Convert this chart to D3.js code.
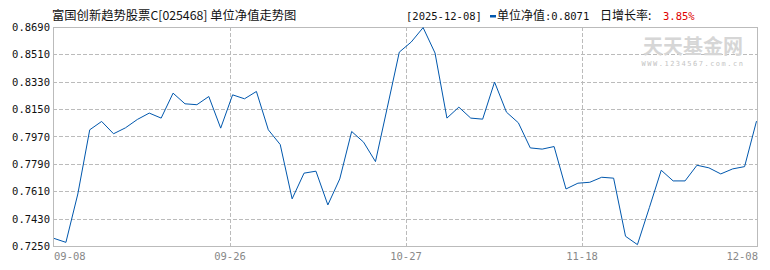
<!DOCTYPE html>
<html>
<head>
<meta charset="utf-8">
<script src="https://cdn.jsdelivr.net/npm/d3@7/dist/d3.min.js"></script>
<style>
  html, body { margin: 0; padding: 0; background: #fff; }
  svg { display: block; }
</style>
</head>
<body>
<svg id="chart" width="770" height="270"></svg>
<script>
// ---- data ----
const dates = [
  "09-08","09-09","09-10","09-11","09-12","09-15","09-16","09-17","09-18","09-19",
  "09-22","09-23","09-24","09-25","09-26","09-29","09-30",
  "10-09","10-10","10-13","10-14","10-15","10-16","10-17","10-20","10-21","10-22",
  "10-23","10-24","10-27","10-28","10-29","10-30","10-31",
  "11-03","11-04","11-05","11-06","11-07","11-10","11-11","11-12","11-13","11-14",
  "11-17","11-18","11-19","11-20","11-21","11-24","11-25","11-26","11-27","11-28",
  "12-01","12-02","12-03","12-04","12-05","12-08"
];
const navValues = [
  0.7300, 0.7274, 0.7592, 0.8014, 0.8069, 0.7988, 0.8027, 0.8082, 0.8124, 0.8091,
  0.8255, 0.8185, 0.8179, 0.8233, 0.8025, 0.8244, 0.8218, 0.8266, 0.8014, 0.7917,
  0.7560, 0.7729, 0.7742, 0.7520, 0.7691, 0.8003, 0.7933, 0.7805, 0.8163, 0.8525,
  0.8591, 0.8686, 0.8519, 0.8091, 0.8163, 0.8091, 0.8084, 0.8328, 0.8130, 0.8060,
  0.7895, 0.7887, 0.7904, 0.7625, 0.7663, 0.7669, 0.7702, 0.7696, 0.7314, 0.7259,
  0.7502, 0.7748, 0.7678, 0.7678, 0.7781, 0.7764, 0.7724, 0.7757, 0.7772, 0.8071
];
const yTicks = [0.7250, 0.7430, 0.7610, 0.7790, 0.7970, 0.8150, 0.8330, 0.8510, 0.8690];
const xTickLabels = ["09-08", "09-26", "10-27", "11-18", "12-08"];
const titleText = "富国创新趋势股票C[025468] 单位净值走势图";
const headerDate = "[2025-12-08]";
const headerNav = "0.8071";
const headerGrowth = "3.85%";

// ---- layout ----
const L = 53, R = 758, T = 27, B = 246;
const svg = d3.select("#chart");
const mono = "'DejaVu Sans Mono', 'Liberation Mono', monospace";
const cjk = "'Noto Sans CJK SC', 'Noto Sans', sans-serif";

const x = d3.scaleLinear().domain([0, navValues.length - 1]).range([L + 1, R - 1.5]);
const xGrid = d3.scaleLinear().domain([0, xTickLabels.length - 1]).range([L + 1, R]);
const y = d3.scaleLinear().domain([yTicks[0], yTicks[yTicks.length - 1]]).range([B, T]);
const crisp = v => Math.round(v) + 0.5;

// horizontal grid lines
svg.append("g").selectAll("line").data(yTicks.slice(1, -1)).join("line")
  .attr("x1", L).attr("x2", R)
  .attr("y1", d => crisp(y(d))).attr("y2", d => crisp(y(d)))
  .attr("stroke", "#bbbbbb").attr("stroke-dasharray", "4,2");

// vertical grid lines
svg.append("g").selectAll("line").data(d3.range(1, xTickLabels.length - 1)).join("line")
  .attr("x1", d => crisp(xGrid(d))).attr("x2", d => crisp(xGrid(d)))
  .attr("y1", T).attr("y2", B)
  .attr("stroke", "#bbbbbb").attr("stroke-dasharray", "4,2");

// frame
svg.append("rect")
  .attr("x", L + 0.5).attr("y", T + 0.5)
  .attr("width", R - L - 1).attr("height", B - T)
  .attr("fill", "none").attr("stroke", "#bbbbbb");

// y labels
svg.append("g").selectAll("text").data(yTicks).join("text")
  .attr("x", 50).attr("y", d => y(d) + 4)
  .attr("text-anchor", "end")
  .attr("font-family", mono).attr("font-size", 10.5)
  .attr("fill", "#111")
  .text(d => d.toFixed(4));

// x labels
svg.append("g").selectAll("text").data(xTickLabels).join("text")
  .attr("x", (d, i) => xGrid(i))
  .attr("y", 260)
  .attr("text-anchor", (d, i) => i === 0 ? "start" : (i === xTickLabels.length - 1 ? "end" : "middle"))
  .attr("font-family", mono).attr("font-size", 10.5)
  .attr("fill", "#888")
  .text(d => d);

// watermark
svg.append("text")
  .attr("x", 693).attr("y", 53.5)
  .attr("text-anchor", "middle")
  .attr("font-family", cjk).attr("font-size", 20).attr("font-weight", "bold")
  .attr("fill", "#d6d6d6")
  .text("天天基金网");
svg.append("text")
  .attr("x", 693).attr("y", 65.5)
  .attr("text-anchor", "middle")
  .attr("font-family", mono).attr("font-size", 7)
  .attr("letter-spacing", 1.5)
  .attr("fill", "#c4c4c4")
  .text("WWW.1234567.com.cn");

// line
const line = d3.line().x((d, i) => x(i)).y(d => y(d));
svg.append("path")
  .datum(navValues)
  .attr("d", line)
  .attr("fill", "none")
  .attr("stroke", "#0057ad")
  .attr("stroke-width", 1);

// title
svg.append("text")
  .attr("x", 52).attr("y", 20)
  .attr("font-family", cjk).attr("font-size", 12.3)
  .attr("fill", "#111")
  .text(titleText);

// header right
svg.append("text")
  .attr("x", 406).attr("y", 19.5)
  .attr("font-family", mono).attr("font-size", 10.5)
  .attr("fill", "#111")
  .text(headerDate);
svg.append("rect")
  .attr("x", 490).attr("y", 15).attr("width", 6).attr("height", 2.5)
  .attr("fill", "#0057ad");
const hn = svg.append("text")
  .attr("x", 497).attr("y", 20)
  .attr("fill", "#111");
hn.append("tspan").attr("font-family", cjk).attr("font-size", 12).text("单位净值");
hn.append("tspan").attr("font-family", mono).attr("font-size", 10.5).text(":" + headerNav);
svg.append("text")
  .attr("x", 600).attr("y", 20)
  .attr("font-family", cjk).attr("font-size", 12)
  .attr("fill", "#111")
  .text("日增长率:");
svg.append("text")
  .attr("x", 663).attr("y", 19.5)
  .attr("font-family", mono).attr("font-size", 10.5)
  .attr("fill", "#e00000")
  .text(headerGrowth);
</script>
</body>
</html>
